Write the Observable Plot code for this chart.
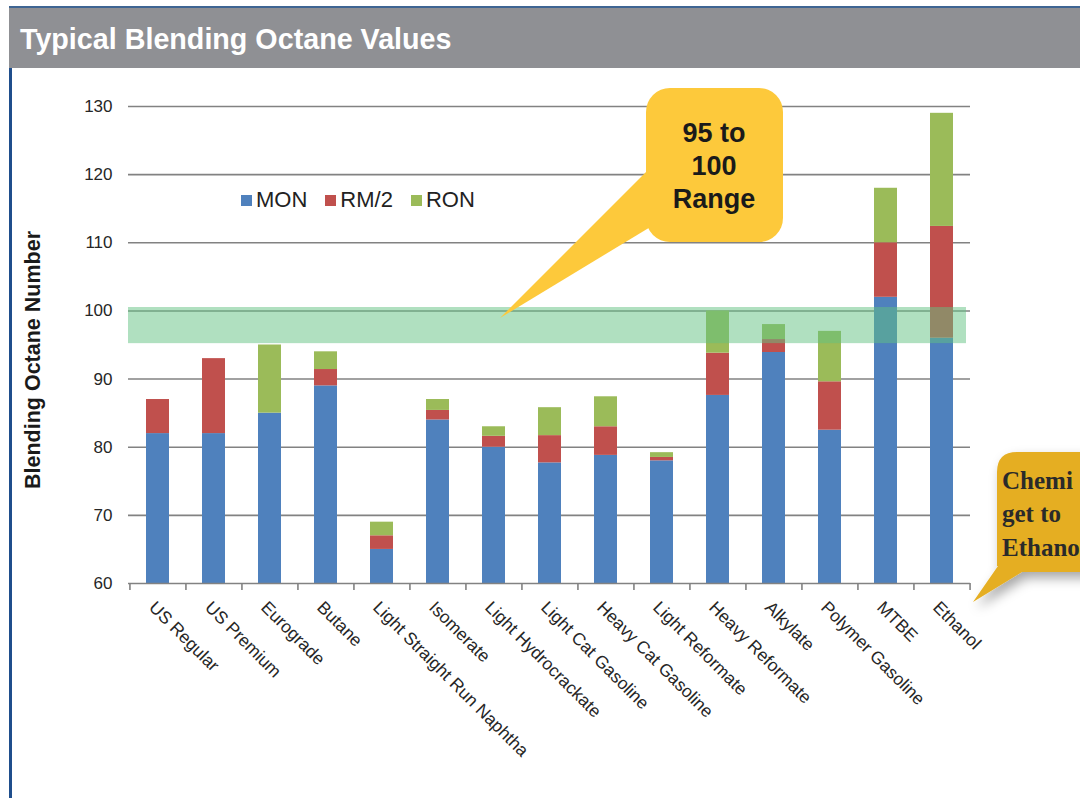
<!DOCTYPE html>
<html>
<head>
<meta charset="utf-8">
<script src="https://cdn.jsdelivr.net/npm/d3@7"></script>
<script src="https://cdn.jsdelivr.net/npm/@observablehq/plot@0.6"></script>
<style>
  html, body { margin: 0; padding: 0; background: #fff; }
  #root { position: relative; width: 1080px; height: 798px; overflow: hidden; font-family: "Liberation Sans", Arial, sans-serif; }
  #titlebar { position: absolute; left: 9px; top: 6px; width: 1071px; height: 62px; background: #8f9094; border-top: 2px solid #3f6593; box-sizing: border-box; }
  #titlebar span { position: absolute; left: 11px; top: 15px; color: #fff; font-weight: bold; font-size: 28.7px; }
  #leftline { position: absolute; left: 9px; top: 68px; width: 3px; height: 730px; background: #1f4e8c; }
  #chart { position: absolute; left: 0; top: 68px; }
  #ytitle { position: absolute; left: 33px; top: 360px; transform: translate(-50%, -50%) rotate(-90deg); font-weight: bold; font-size: 21.5px; color: #1a1a1a; white-space: nowrap; }
  #legend { position: absolute; left: 241px; top: 187px; display: flex; align-items: center; font-size: 22px; color: #222; }
  #legend .item { display: flex; align-items: center; margin-right: 18px; }
  #legend .sw { width: 11px; height: 11px; margin-right: 4px; }
  #overlay { position: absolute; left: 0; top: 0; pointer-events: none; }
</style>
</head>
<body>
<div id="root">
  <div id="chart"></div>
  <div id="leftline"></div>
  <div id="titlebar"><span>Typical Blending Octane Values</span></div>
  <div id="ytitle">Blending Octane Number</div>
  <div id="legend"></div>
  <svg id="overlay" width="1080" height="798">
    <defs>
      <filter id="shadow" x="-30%" y="-30%" width="160%" height="160%">
        <feDropShadow dx="4" dy="6" stdDeviation="6" flood-color="#000" flood-opacity="0.35"/>
      </filter>
    </defs>
    <g>
      <path d="M500,318 L652,166 L652,226 Z" fill="#fdc93b"/>
      <rect x="646" y="88" width="137" height="154" rx="24" ry="24" fill="#fdc93b"/>
      <text x="714" y="142" text-anchor="middle" font-family="Liberation Sans, Arial, sans-serif" font-weight="bold" font-size="27" fill="#1a1a1a">95 to</text>
      <text x="714" y="175" text-anchor="middle" font-family="Liberation Sans, Arial, sans-serif" font-weight="bold" font-size="27" fill="#1a1a1a">100</text>
      <text x="714" y="208" text-anchor="middle" font-family="Liberation Sans, Arial, sans-serif" font-weight="bold" font-size="27" fill="#1a1a1a">Range</text>
    </g>
    <g filter="url(#shadow)">
      <path d="M1017,452 L1120,452 L1120,572 L1022,572 L973,602 L998,566 L997,566 L997,472 Q997,452 1017,452 Z" fill="#e5ae22"/>
    </g>
    <g font-family="Liberation Serif, 'DejaVu Serif', serif" font-weight="bold" font-size="25" fill="#2a2a2a">
      <text x="1002" y="489">Chemi</text>
      <text x="1002" y="522">get to</text>
      <text x="1002" y="556">Ethano</text>
    </g>
  </svg>
</div>
<script>
const categories = ["US Regular", "US Premium", "Eurograde", "Butane", "Light Straight Run Naphtha", "Isomerate", "Light Hydrocrackate", "Light Cat Gasoline", "Heavy Cat Gasoline", "Light Reformate", "Heavy Reformate", "Alkylate", "Polymer Gasoline", "MTBE", "Ethanol"];
const mon = [82, 82, 85, 89, 65, 84, 80, 77.7, 78.8, 78, 87.6, 93.9, 82.5, 102, 96];
const rm2 = [87, 93, null, 91.4, 67, 85.4, 81.6, 81.7, 83, 78.5, 93.8, 95.8, 89.6, 110, 112.4];
const ron = [null, null, 95, 94, 69, 87, 83, 85.8, 87.4, 79.2, 100, 98, 97, 118, 129];
const seriesNames = ["MON", "RM/2", "RON"];
const seriesColors = ["#4f81bd", "#c0504d", "#9bbb59"];
const yTicks = [60, 70, 80, 90, 100, 110, 120, 130];
const rangeBand = [95.2, 100.5];
const yBase = 60;

// build segments
const segs = [];
categories.forEach((c, i) => {
  const tops = [mon[i], rm2[i], ron[i]];
  let prev = yBase;
  tops.forEach((t, k) => {
    if (t != null) {
      segs.push({cat: c, series: seriesNames[k], y1: prev, y2: t});
      prev = t;
    }
  });
});

const W = 1080, H = 730, ML = 128, MR = 110, MT = 38, MB = 215;
const step = (W - ML - MR) / categories.length;

const chart = Plot.plot({
  width: W, height: H,
  marginLeft: ML, marginRight: MR, marginTop: MT, marginBottom: MB,
  style: {background: "transparent", fontFamily: "Liberation Sans, Arial, sans-serif", fontSize: "17px", color: "#262626"},
  x: {domain: categories, paddingInner: 0.59, paddingOuter: 0.295, axis: null},
  y: {domain: [60, 130], axis: null},
  color: {domain: seriesNames, range: seriesColors},
  marks: [
    Plot.ruleY(yTicks.filter(d => d > yBase), {stroke: "#828282", strokeWidth: 1.6}),
    Plot.barY(segs, {x: "cat", y1: "y1", y2: "y2", fill: "series"}),
    Plot.rect([rangeBand], {y1: d => d[0], y2: d => d[1], fill: "rgb(97,193,129)", fillOpacity: 0.5, insetRight: 4}),
    Plot.ruleY([yBase], {stroke: "#828282", strokeWidth: 1.6}),
    Plot.ruleX(categories, {x: d => d, dx: -step / 2, y1: yBase, y2: yBase, insetBottom: -7, stroke: "#828282", strokeWidth: 1.6}),
    Plot.ruleX(categories.slice(-1), {x: d => d, dx: step / 2, y1: yBase, y2: yBase, insetBottom: -7, stroke: "#828282", strokeWidth: 1.6}),
    Plot.axisY(yTicks, {tickSize: 0, tickPadding: 16, fontSize: 17}),
    Plot.text(categories, {x: d => d, frameAnchor: "bottom", rotate: 45, textAnchor: "start", lineAnchor: "middle", dx: -6, dy: 21, fontSize: 17.5, fill: "#262626"})
  ]
});
document.getElementById("chart").appendChild(chart);

const legend = document.getElementById("legend");
seriesNames.forEach((s, k) => {
  const it = document.createElement("div");
  it.className = "item";
  const sw = document.createElement("div");
  sw.className = "sw";
  sw.style.background = seriesColors[k];
  const tx = document.createElement("span");
  tx.textContent = s;
  it.appendChild(sw); it.appendChild(tx);
  legend.appendChild(it);
});
</script>
</body>
</html>
